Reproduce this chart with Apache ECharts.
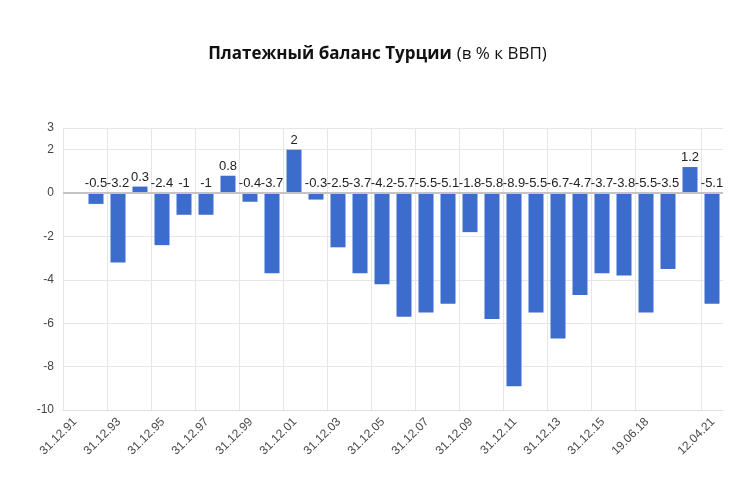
<!DOCTYPE html>
<html>
<head>
<meta charset="utf-8">
<script src="https://cdn.jsdelivr.net/npm/echarts@6/dist/echarts.min.js"></script>
<style>html,body{margin:0;padding:0;background:#fff}#c{width:755px;height:500px}</style>
</head>
<body>
<div id="c"></div>
<script>
// Bar slots (one per year step); first slot is empty
const barCategories = ['s0','s1','s2','s3','s4','s5','s6','s7','s8','s9','s10','s11','s12','s13','s14','s15','s16','s17','s18','s19','s20','s21','s22','s23','s24','s25','s26','s27','s28','s29'];
const values = [null, -0.5, -3.2, 0.3, -2.4, -1, -1, 0.8, -0.4, -3.7, 2, -0.3, -2.5, -3.7, -4.2, -5.7, -5.5, -5.1, -1.8, -5.8, -8.9, -5.5, -6.7, -4.7, -3.7, -3.8, -5.5, -3.5, 1.2, -5.1];
// Tick labels at slot boundaries
const tickLabels = ['31.12.91','','31.12.93','','31.12.95','','31.12.97','','31.12.99','','31.12.01','','31.12.03','','31.12.05','','31.12.07','','31.12.09','','31.12.11','','31.12.13','','31.12.15','','19.06.18','','','12.04.21',''];
const yTicks = { min: -10, max: 3, interval: 2 };

const chart = echarts.init(document.getElementById('c'), null, {renderer: 'canvas'});
const showIdx = (i, v) => v !== '';
chart.setOption({
  animation: false,
  backgroundColor: '#fff',
  title: {
    text: '{b|Платежный баланс Турции} {n|(в % к ВВП)}',
    left: 'center', top: 40,
    textStyle: {
      rich: {
        b: {fontFamily: 'Open Sans', fontWeight: 'bold', fontSize: 17, color: '#111'},
        n: {fontFamily: 'Open Sans', fontWeight: 'normal', fontSize: 17, color: '#111'}
      }
    }
  },
  grid: [
    {left: 63, right: 32, top: 128, bottom: 90},
    {left: 75, right: 20, top: 128, bottom: 90}
  ],
  xAxis: [
    {type: 'category', gridIndex: 0, data: barCategories, show: false, position: 'top'},
    {type: 'category', gridIndex: 0, data: tickLabels, boundaryGap: false, position: 'bottom',
     axisLine: {onZero: false, lineStyle: {color: '#e0e0e0', width: 1}},
     axisTick: {show: false}, axisLabel: {show: false},
     splitLine: {show: true, interval: showIdx, lineStyle: {color: '#e6e6e6', width: 1}}},
    {type: 'category', gridIndex: 1, data: tickLabels, boundaryGap: false, position: 'bottom',
     axisLine: {show: false}, axisTick: {show: false}, splitLine: {show: false},
     axisLabel: {show: true, interval: showIdx, rotate: 45, margin: 10, fontFamily: 'Liberation Sans', fontSize: 12, color: '#4a4a4a'}}
  ],
  yAxis: [
    {type: 'value', gridIndex: 0, min: yTicks.min, max: yTicks.max, interval: yTicks.interval,
     axisLine: {show: false}, axisTick: {show: false},
     axisLabel: {margin: 9, fontFamily: 'Liberation Sans', fontSize: 12, color: '#444'},
     splitLine: {show: true, lineStyle: {color: '#e6e6e6', width: 1}}},
    {type: 'value', gridIndex: 1, min: yTicks.min, max: yTicks.max, show: false}
  ],
  series: [{
    type: 'bar', xAxisIndex: 0, yAxisIndex: 0,
    data: values,
    barWidth: 15,
    itemStyle: {color: '#3d6dcc'},
    label: {show: true, position: 'top', distance: 3, fontFamily: 'Liberation Sans', fontSize: 13, color: '#222'},
    markLine: {
      silent: true, symbol: 'none', label: {show: false},
      lineStyle: {color: '#c4c4c4', width: 2, type: 'solid'},
      data: [{yAxis: 0}]
    }
  }]
});
</script>
</body>
</html>
